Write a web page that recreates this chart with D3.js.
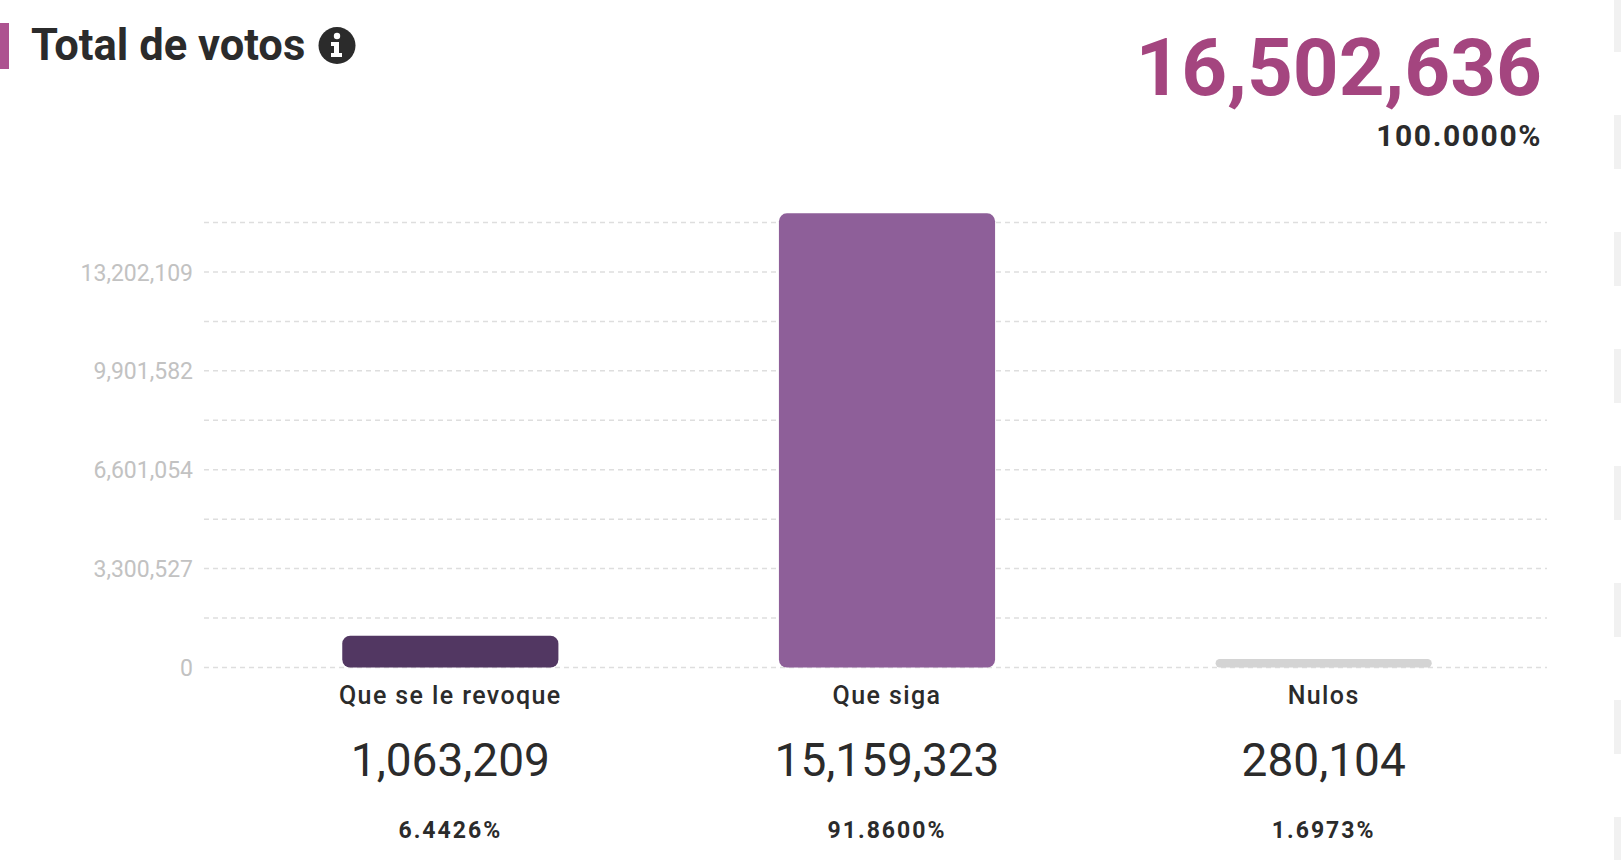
<!DOCTYPE html>
<html>
<head>
<meta charset="utf-8">
<script src="https://cdn.jsdelivr.net/npm/d3@7"></script>
<style>
  html, body { margin: 0; padding: 0; background: #ffffff; }
  svg { display: block; font-family: Roboto, "Noto Sans", sans-serif; }
</style>
</head>
<body>
<svg id="chart" width="1621" height="860"></svg>
<script>
// ---- data ----
const categories = ["Que se le revoque", "Que siga", "Nulos"];
const votes = [1063209, 15159323, 280104];
const percents = ["6.4426%", "91.8600%", "1.6973%"];
const totalVotes = 16502636;
const totalPercent = "100.0000%";
const titleText = "Total de votos";
const tickValues = [0, 3300527, 6601054, 9901582, 13202109];
const gridValues = [0, 1650264, 3300527, 4950791, 6601054, 8251318, 9901582, 11551845, 13202109, 14852372];

// ---- styles ----
const barColors = ["#523762", "#8e5f99", "#d4d4d4"];
const pink = "#a4457f";
const dark = "#2b2b2b";

const svg = d3.select("#chart");

// decorative panel edge on the right
const edge = svg.append("g");
for (let i = 0; i < 8; i++) {
  edge.append("rect").attr("x", 1614).attr("y", i * 117 - 2).attr("width", 7).attr("height", 54)
    .attr("fill", "#f1f1f1");
}

// header
svg.append("rect").attr("x", 0).attr("y", 23).attr("width", 9).attr("height", 46).attr("fill", "#ad5390");
svg.append("text").attr("x", 31).attr("y", 60).attr("font-size", 43.5).attr("font-weight", 700)
  .attr("fill", dark).text(titleText);
svg.append("circle").attr("cx", 337).attr("cy", 45.5).attr("r", 18.5).attr("fill", dark);
svg.append("circle").attr("cx", 337).attr("cy", 36).attr("r", 3.2).attr("fill", "#fff");
svg.append("path").attr("d", "M331,42 h8 v11 h3 v4 h-11 v-4 h3 v-7 h-3 z").attr("fill", "#fff");

svg.append("text").attr("x", 1542).attr("y", 95).attr("text-anchor", "end")
  .attr("font-size", 80).attr("font-weight", 700).attr("fill", pink)
  .text(d3.format(",")(totalVotes));
svg.append("text").attr("x", 1542).attr("y", 146).attr("text-anchor", "end")
  .attr("font-size", 30).attr("font-weight", 700).attr("letter-spacing", 1.6).attr("fill", dark)
  .text(totalPercent);

// scales
const y = d3.scaleLinear().domain([0, totalVotes]).range([667.5, 173.1]);
const x = d3.scaleBand().domain(categories).range([232, 1542]).paddingInner(0.505).paddingOuter(0.2525);

// grid
svg.append("g").selectAll("line").data(gridValues).join("line")
  .attr("x1", 204).attr("x2", 1547)
  .attr("y1", d => y(d)).attr("y2", d => y(d))
  .attr("stroke", "#dedede").attr("stroke-width", 1.5).attr("stroke-dasharray", "5,4");

// y axis labels
const yAxis = d3.axisLeft(y).tickValues(tickValues).tickSize(0).tickPadding(0).tickFormat(d3.format(","));
const gy = svg.append("g").attr("transform", "translate(193,0)").call(yAxis);
gy.select(".domain").remove();
gy.selectAll("text").attr("font-family", "Roboto, sans-serif").attr("font-size", 23)
  .attr("fill", "#c2c2c2").attr("dy", "0.35em");

// bars
const data = categories.map((c, i) => ({ c, v: votes[i], p: percents[i], color: barColors[i] }));
svg.append("g").selectAll("rect").data(data).join("rect")
  .attr("x", d => x(d.c)).attr("width", x.bandwidth())
  .attr("y", d => y(d.v)).attr("height", d => y(0) - y(d.v))
  .attr("rx", d => Math.min(8, (y(0) - y(d.v)) / 2))
  .attr("fill", d => d.color);

// labels
const cx = d => x(d.c) + x.bandwidth() / 2;
svg.append("g").selectAll("text").data(data).join("text")
  .attr("x", cx).attr("y", 704).attr("text-anchor", "middle")
  .attr("font-size", 25).attr("font-weight", 500).attr("letter-spacing", 1.4)
  .attr("fill", dark).text(d => d.c);
svg.append("g").selectAll("text").data(data).join("text")
  .attr("x", cx).attr("y", 776).attr("text-anchor", "middle")
  .attr("font-size", 46).attr("font-weight", 400)
  .attr("fill", dark).text(d => d3.format(",")(d.v));
svg.append("g").selectAll("text").data(data).join("text")
  .attr("x", cx).attr("y", 838).attr("text-anchor", "middle")
  .attr("font-size", 23).attr("font-weight", 700).attr("letter-spacing", 2)
  .attr("fill", dark).text(d => d.p);
</script>
</body>
</html>
